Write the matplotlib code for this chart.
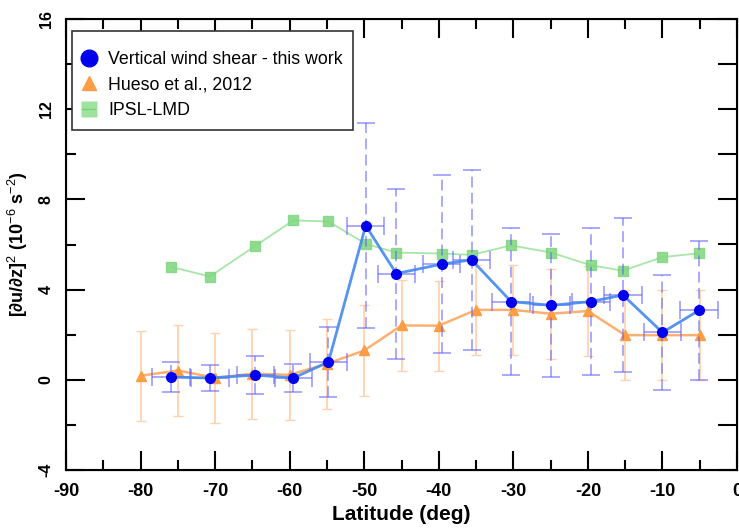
import numpy as np
import matplotlib.pyplot as plt
from matplotlib.lines import Line2D
from matplotlib.ticker import MultipleLocator

plt.rcParams['font.family'] = ['Liberation Sans', 'DejaVu Sans']
plt.rcParams['mathtext.fontset'] = 'custom'
plt.rcParams['mathtext.rm'] = 'Liberation Sans'
plt.rcParams['mathtext.bf'] = 'Liberation Sans:bold'
plt.rcParams['axes.unicode_minus'] = False

# Vertical wind shear - this work
lat_this = [-75.9, -70.7, -64.6, -59.5, -54.8, -49.8, -45.7, -39.6,
            -35.6, -30.3, -24.9, -19.6, -15.3, -10.0, -5.1]
shear_this = [0.12, 0.08, 0.21, 0.08, 0.79, 6.84, 4.71, 5.13,
              5.32, 3.47, 3.30, 3.47, 3.76, 2.10, 3.08]
shear_this_err = [0.65, 0.59, 0.85, 0.62, 1.56, 4.56, 3.77, 3.95,
                  4.00, 3.26, 3.18, 3.25, 3.40, 2.55, 3.07]
lat_this_err = [2.5] * 15

# Hueso et al., 2012
lat_hueso = [-80, -75, -70, -65, -60, -55, -50, -45,
             -40, -35, -30, -25, -20, -15, -10, -5]
shear_hueso = [0.18, 0.41, 0.09, 0.27, 0.22, 0.71, 1.30, 2.41,
               2.40, 3.10, 3.10, 2.93, 3.05, 1.98, 1.98, 1.98]
shear_hueso_err = [2.0] * 16

# IPSL-LMD model
shear_ipsl = [5.01, 4.58, 5.94, 7.07, 7.02, 6.03, 5.64, 5.60,
              5.54, 5.96, 5.64, 5.08, 4.84, 5.44, 5.61]

fig = plt.figure(figsize=(7.39, 5.28), dpi=100)
ax = fig.add_axes([66 / 739, 58 / 528, 671 / 739, 451 / 528])

# model curve
ax.plot(lat_this, shear_ipsl, color='#a8e6a8', lw=1.3, zorder=2)
ax.plot(lat_this, shear_ipsl, ls='none', marker='s', ms=6.5,
        color='#7fd67f', alpha=0.85, zorder=3)

# Hueso
ax.errorbar(lat_hueso, shear_hueso, yerr=shear_hueso_err, fmt='none',
            ecolor='#ffd3b0', elinewidth=1.3, capsize=3.5, zorder=2)
ax.plot(lat_hueso, shear_hueso, color='#ffb070', lw=1.8, zorder=3)
ax.plot(lat_hueso, shear_hueso, ls='none', marker='^', ms=6.5,
        color='#ff9d45', zorder=4)

# this work: dashed vertical bars, solid horizontal bars
eb = ax.errorbar(lat_this, shear_this, yerr=shear_this_err, fmt='none',
                 ecolor='#5a5aff', elinewidth=1.3, capsize=6.5, capthick=1.3,
                 alpha=0.55, zorder=5)
eb[2][0].set_linestyle((0, (6, 3)))
ax.errorbar(lat_this, shear_this, xerr=lat_this_err, fmt='none',
            ecolor='#5a5aff', elinewidth=1.3, capsize=6.5, capthick=1.3,
            alpha=0.55, zorder=5)
ax.plot(lat_this, shear_this, color='#4488ee', lw=2.0, alpha=0.9, zorder=6)
ax.plot(lat_this, shear_this, ls='none', marker='o', ms=7,
        color='#0000ee', zorder=7)

ax.set_xlim(-90, 0)
ax.set_ylim(-4, 16)
ax.xaxis.set_major_locator(MultipleLocator(10))
ax.xaxis.set_minor_locator(MultipleLocator(5))
ax.yaxis.set_major_locator(MultipleLocator(4))
ax.yaxis.set_minor_locator(MultipleLocator(2))
ax.tick_params(which='major', direction='in', length=14, width=1.5,
               top=True, labelsize=13, pad=9)
ax.tick_params(which='minor', direction='in', length=7, width=1.5, top=True)
ax.tick_params(axis='y', labelrotation=90, labelsize=11.5, pad=9)
for lab in ax.get_xticklabels() + ax.get_yticklabels():
    lab.set_fontweight('bold')
for lab in ax.get_yticklabels():
    lab.set_va('center')
for sp in ax.spines.values():
    sp.set_linewidth(1.5)

# right side ticks, all long
ax2 = ax.twinx()
ax2.set_ylim(-4, 16)
ax2.set_yticks(np.arange(-4, 17, 2))
ax2.tick_params(direction='in', length=14, width=1.5, labelright=False)

ax.set_xlabel('Latitude (deg)', fontsize=15, fontweight='bold', labelpad=4)
ax.set_ylabel(r'[∂u/∂z]$^2$ (10$^{-6}$ s$^{-2}$)',
              fontsize=13, fontweight='bold', labelpad=6)

handles = [
    Line2D([], [], ls='none', marker='o', ms=12, color='#0000ee'),
    Line2D([], [], ls='none', marker='^', ms=10, color='#ff9d45'),
    Line2D([], [], ls='-', lw=1, color='#4aa84a', marker='s', ms=12,
           markerfacecolor=(0.52, 0.86, 0.52, 0.8), markeredgecolor='none'),
]
labels = ['Vertical wind shear - this work', 'Hueso et al., 2012', 'IPSL-LMD']
leg = ax.legend(handles, labels, loc='upper left', fontsize=12.8, fancybox=False,
                handlelength=0.7, handletextpad=0.75, borderpad=0.6,
                labelspacing=0.47, title=' ', title_fontsize=1,
                bbox_to_anchor=(0.0085, 0.973), framealpha=1, shadow=False,
                borderaxespad=0)
leg.get_frame().set_edgecolor('#333333')
leg.get_frame().set_linewidth(1.2)
leg.set_zorder(10)

fig.savefig('out.png', dpi=100)
